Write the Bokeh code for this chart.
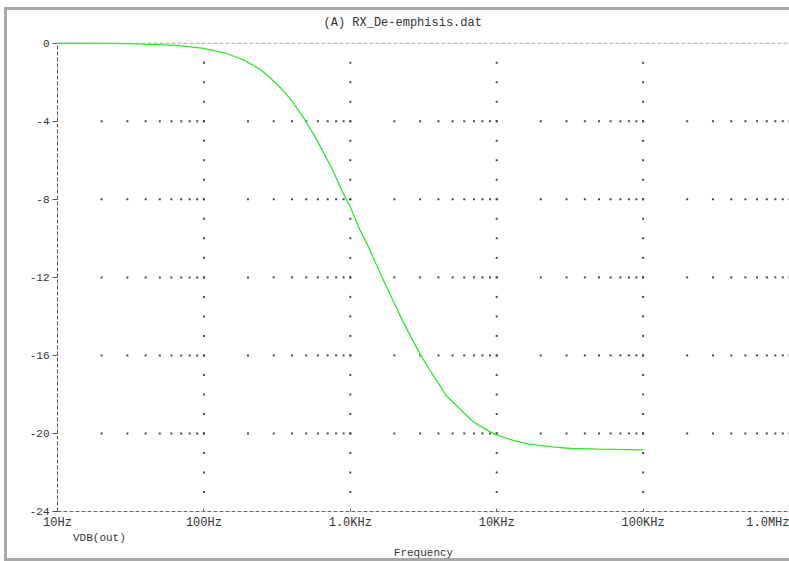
from bokeh.plotting import figure
from bokeh.layouts import column
from bokeh.models import (Range1d, FixedTicker, Span, Legend, LegendItem, Title,
                          ColumnDataSource)
from bokeh.embed import file_html
from bokeh.resources import INLINE

# ---- data ----
freq_hz = [10, 20, 30, 50, 70, 100, 140, 190, 240, 281, 340, 400, 494, 570, 648,
           750, 887, 1000, 1151, 1300, 1500, 1660, 2000, 2200, 2600, 3027, 3500,
           4000, 4478, 5500, 6796, 8000, 9550, 13000, 16500, 25000, 32500, 50000,
           100000]
vdb_out = [0.0, -0.01, -0.02, -0.07, -0.13, -0.26, -0.5, -0.88, -1.32, -1.74,
           -2.34, -2.97, -3.97, -4.75, -5.53, -6.43, -7.63, -8.39, -9.5, -10.27,
           -11.31, -12.05, -13.33, -14.0, -15.06, -16.0, -16.76, -17.42, -18.03,
           -18.68, -19.36, -19.69, -20.02, -20.36, -20.55, -20.7, -20.77, -20.8,
           -20.84]

x_ticks = [10, 100, 1000, 10000, 100000, 1000000]
x_tick_labels = ["10Hz", "100Hz", "1.0KHz", "10KHz", "100KHz", "1.0MHz"]
y_ticks = [0, -4, -8, -12, -16, -20, -24]
y_tick_labels = ["0", "-4", "-8", "-12", "-16", "-20", "-24"]
minor_mults = [2, 3, 4, 5, 6, 7, 8, 9, 10]
y_minor = list(range(-1, -24, -1))

FONT = "Liberation Mono"
TXT = "#333333"

p = figure(width=782, height=522, x_axis_type="log",
           x_range=Range1d(x_ticks[0], x_ticks[-1]), y_range=Range1d(-24, 0.5),
           output_backend="svg", toolbar_location=None,
           min_border_left=50, min_border_right=0, min_border_top=21,
           min_border_bottom=18)
p.outline_line_color = None
p.xgrid.visible = False
p.ygrid.visible = False
p.background_fill_color = "white"
p.border_fill_color = "white"

# dotted grid (log minor positions on each major dB level, 1 dB dots on decades)
gx, gy = [], []
for yv in y_ticks[1:-1]:
    for dec in x_ticks[:-1]:
        for m in minor_mults:
            gx.append(dec * m)
            gy.append(yv)
for dec in x_ticks[1:-1]:
    for yv in y_minor:
        gx.append(dec)
        gy.append(yv)
p.scatter(x="x", y="y", source=ColumnDataSource(dict(x=gx, y=gy)),
          marker="square", size=2, fill_color="#4a4a4a", line_color=None)

# top dashed line at 0 dB
p.add_layout(Span(location=y_ticks[0], dimension="width", line_color="#a8a8a8",
                  line_dash="4 2", line_width=1))

# curve
curve = p.line(freq_hz, vdb_out, line_color="#2ee82e", line_width=1.3)

# axes
xa = p.xaxis[0]
xa.ticker = FixedTicker(ticks=x_ticks, minor_ticks=[])
xa.major_label_overrides = dict(zip(x_ticks, x_tick_labels))
xa.axis_line_dash = "4 2"
xa.axis_line_color = "#666666"
xa.major_tick_line_color = "#666666"
xa.major_tick_in = 3
xa.major_tick_out = 0
xa.minor_tick_line_color = None
xa.major_label_standoff = 4
xa.major_label_text_font = FONT
xa.major_label_text_font_size = "12px"
xa.major_label_text_color = TXT

ya = p.yaxis[0]
ya.ticker = FixedTicker(ticks=y_ticks, minor_ticks=[])
ya.major_label_overrides = {t: l for t, l in zip(y_ticks, y_tick_labels)}
ya.bounds = (y_ticks[-1], y_ticks[0])
ya.axis_line_dash = "4 2"
ya.axis_line_color = "#555555"
ya.major_tick_line_color = "#555555"
ya.major_tick_in = 0
ya.major_tick_out = 5
ya.minor_tick_line_color = None
ya.major_label_standoff = 3
ya.major_label_text_font = FONT
ya.major_label_text_font_size = "11px"
ya.major_label_text_color = TXT

# title
p.add_layout(Title(text="(A) RX_De-emphisis.dat", align="left", offset=266,
                   standoff=7, text_font=FONT, text_font_size="12px",
                   text_font_style="normal", text_color=TXT), "above")

# ---- strip below the axis: legend and axis caption ----
q = figure(width=782, height=26, x_range=Range1d(0, 1), y_range=Range1d(0, 1),
           output_backend="svg", toolbar_location=None,
           x_axis_location=None, y_axis_location=None,
           min_border_left=50, min_border_right=0, min_border_top=0,
           min_border_bottom=0)
q.outline_line_color = None
q.grid.visible = False
q.background_fill_color = "white"
q.border_fill_color = "white"

leg_r = q.scatter(x=[], y=[], marker="square", size=6, fill_color="#b8f0b8",
                  line_color="#2ee82e", line_width=1.2)
legend = Legend(items=[LegendItem(label="VDB(out)", renderers=[leg_r])],
                location="top_left", orientation="horizontal", padding=0,
                margin=0, spacing=0, glyph_width=12, glyph_height=12,
                label_height=12, label_standoff=4, label_text_font=FONT,
                label_text_font_size="11px", label_text_color=TXT,
                border_line_color=None, background_fill_alpha=0)
q.add_layout(legend)

q.add_layout(Title(text="Frequency", align="center", offset=0, standoff=0,
                   text_font=FONT, text_font_size="11px",
                   text_font_style="normal", text_color=TXT), "below")

page = column(p, q, spacing=0,
              styles={"margin-left": "4px", "margin-top": "7px",
                      "border-left": "3px solid #a8a8a8",
                      "border-top": "3px solid #a8a8a8",
                      "border-bottom": "3px solid #a8a8a8"})

open("out.html", "w").write(file_html(page, INLINE))
